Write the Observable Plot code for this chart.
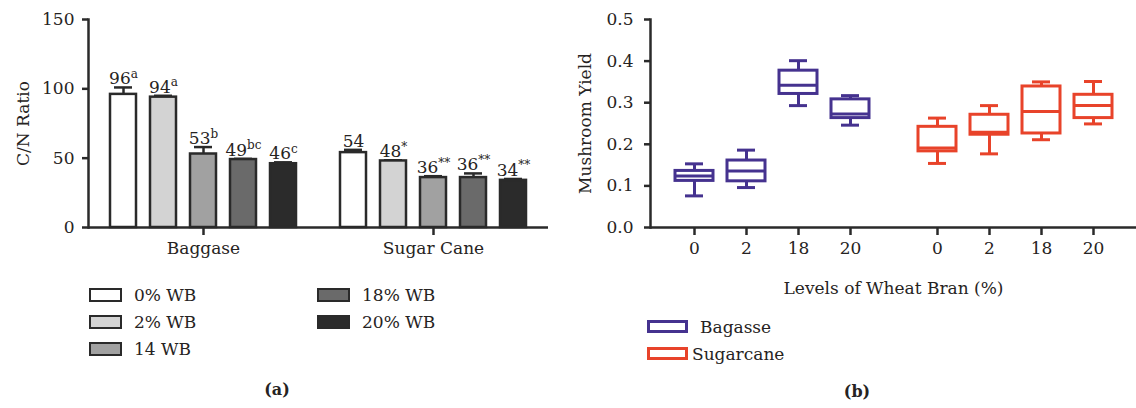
<!DOCTYPE html>
<html>
<head>
<meta charset="utf-8">
<script src="https://cdn.jsdelivr.net/npm/d3@7"></script>
<script src="https://cdn.jsdelivr.net/npm/@observablehq/plot@0.6"></script>
<style>
  body { margin: 0; background: #fff; font-family: "DejaVu Serif", serif; color: #262322; }
  #fig { position: relative; width: 1136px; height: 408px; overflow: hidden; background: #fff; }
  .panel { position: absolute; top: 0; }
  .legend { position: absolute; font-size: 17px; }
  .legend .item { display: flex; align-items: center; height: 27px; white-space: nowrap; }
  .legend .sw { box-sizing: border-box; flex: none; }
  #legendA { left: 89px; top: 281px; display: grid; grid-template-columns: 228px auto; grid-template-rows: repeat(3, 27px); grid-auto-flow: column; }
  #legendA .sw { width: 33px; height: 14px; border: 2.5px solid #2a2a2a; margin-right: 12px; }
  #legendB { left: 647px; top: 313px; }
  #legendB .sw { width: 41px; height: 13px; border: 3px solid; }
  .cap { position: absolute; font-weight: bold; font-size: 16px; line-height: 20px; transform: translateX(-50%); }
</style>
</head>
<body>
<div id="fig">
  <div id="panelA" class="panel" style="left:0px"></div>
  <div id="panelB" class="panel" style="left:560px"></div>
  <div id="legendA" class="legend"></div>
  <div id="legendB" class="legend"></div>
  <div class="cap" style="left:277px; top:380px">(a)</div>
  <div class="cap" style="left:857px; top:382px">(b)</div>
</div>
<script>
// ---- (a) C/N ratio of the substrates with wheat bran (WB) ----
const substrates = ["Baggase", "Sugar Cane"];
const wbLevels = ["0% WB", "2% WB", "14 WB", "18% WB", "20% WB"];
const wbFills = ["#ffffff", "#d3d3d3", "#a1a1a1", "#6a6a6a", "#2b2b2b"];
const cnBaggase = [96, 94, 53, 49, 46];
const cnSugarCane = [54, 48, 36, 36, 34];
const errBaggase = [5, 1, 5, 0.5, 1];
const errSugarCane = [2, 0.5, 1, 3, 1];
const markBaggase = ["a", "a", "b", "bc", "c"];
const markSugarCane = ["", "*", "**", "**", "**"];

// ---- (b) mushroom yield, five-number summaries [min, q1, median, q3, max] ----
const yieldSubstrates = ["Bagasse", "Sugarcane"];
const wbPercent = ["0", "2", "18", "20"];
const boxColors = ["#45328f", "#e8432a"];
const yieldBagasse = [
  [0.076, 0.112, 0.124, 0.136, 0.153],
  [0.096, 0.111, 0.136, 0.161, 0.186],
  [0.293, 0.321, 0.342, 0.377, 0.401],
  [0.246, 0.263, 0.273, 0.308, 0.317]
];
const yieldSugarcane = [
  [0.154, 0.183, 0.191, 0.242, 0.263],
  [0.177, 0.223, 0.229, 0.271, 0.293],
  [0.211, 0.226, 0.279, 0.339, 0.350],
  [0.249, 0.263, 0.293, 0.319, 0.351]
];

const ink = "#2a2a2a";
const font = {fontFamily: "DejaVu Serif", fontSize: "17px", color: "#262322", background: "transparent", overflow: "visible"};

// Rows for the bar chart
const cnValues = [cnBaggase, cnSugarCane];
const cnErrors = [errBaggase, errSugarCane];
const cnMarks = [markBaggase, markSugarCane];
const cnRows = substrates.flatMap((s, i) => wbLevels.map((lvl, j) => ({
  substrate: s, level: lvl, value: cnValues[i][j], err: cnErrors[i][j], mark: cnMarks[i][j]
})));

const chartA = Plot.plot({
  width: 560, height: 265,
  marginLeft: 88, marginRight: 12, marginTop: 19, marginBottom: 38,
  style: font,
  fx: {domain: substrates, padding: 0},
  x: {domain: wbLevels, paddingInner: 0.36, paddingOuter: 0.555, axis: null},
  y: {domain: [0, 150]},
  color: {domain: wbLevels, range: wbFills},
  marks: [
    Plot.frame({anchor: "left", facetAnchor: "left", stroke: ink, strokeWidth: 2.5}),
    Plot.axisY({ticks: [0, 50, 100, 150], tickSize: 6, tickPadding: 8, strokeWidth: 2.5, stroke: ink,
      label: "C/N Ratio", labelAnchor: "center", labelArrow: "none", labelOffset: 72}),
    Plot.axisFx({anchor: "bottom", tickSize: 8, tickPadding: 6, strokeWidth: 2.5, stroke: ink, label: null}),
    Plot.ruleY([0], {stroke: ink, strokeWidth: 2.5}),
    Plot.ruleX(cnRows, {fx: "substrate", x: "level", y1: "value", y2: d => d.value + d.err, stroke: ink, strokeWidth: 2.5}),
    Plot.tickY(cnRows, {fx: "substrate", x: "level", y: d => d.value + d.err, stroke: ink, strokeWidth: 2.5, insetLeft: 4, insetRight: 4}),
    Plot.barY(cnRows, {fx: "substrate", x: "level", y: "value", fill: "level", stroke: ink, strokeWidth: 2.5}),
    Plot.text(cnRows, {fx: "substrate", x: "level", y: d => d.value + d.err,
      text: d => d.mark ? `${d.value}^${d.mark}` : `${d.value}`,
      lineAnchor: "bottom", dy: -3, fontSize: 17})
  ]
});

// Turn "96^a" into a number followed by a raised superscript
d3.select(chartA).selectAll("text").each(function () {
  if (this.children.length > 1) return;
  const parts = this.textContent.split("^");
  if (parts.length < 2) return;
  const t = d3.select(this).text(null);
  t.append("tspan").text(parts[0]);
  t.append("tspan").attr("dy", "-6.5").attr("font-size", "12px").text(parts[1]);
});
document.getElementById("panelA").append(chartA);

// Box plot rows
const yieldTables = [yieldBagasse, yieldSugarcane];
const boxRows = yieldSubstrates.flatMap((s, i) => wbPercent.map((lvl, j) => {
  const [min, q1, median, q3, max] = yieldTables[i][j];
  return {substrate: s, level: lvl, min, q1, median, q3, max};
}));

const box = {fx: "substrate", x: "level", stroke: "substrate", strokeWidth: 3};
const chartB = Plot.plot({
  width: 576, height: 300,
  marginLeft: 89, marginRight: 0, marginTop: 19, marginBottom: 73,
  style: font,
  fx: {domain: yieldSubstrates, padding: 0, axis: null},
  x: {domain: wbPercent, paddingInner: 0.276, paddingOuter: 0.453},
  y: {domain: [0, 0.5]},
  color: {domain: yieldSubstrates, range: boxColors},
  marks: [
    Plot.frame({anchor: "left", facetAnchor: "left", stroke: ink, strokeWidth: 2.5}),
    Plot.axisY({ticks: [0, 0.1, 0.2, 0.3, 0.4, 0.5], tickFormat: ".1f", tickSize: 6, tickPadding: 11,
      strokeWidth: 2.5, stroke: ink, label: "Mushroom Yield", labelAnchor: "center",
      labelArrow: "none", labelOffset: 72}),
    Plot.axisX({tickSize: 8, tickPadding: 6, strokeWidth: 2.5, stroke: ink,
      label: "Levels of Wheat Bran (%)", labelAnchor: "center", labelArrow: "none", labelOffset: 66}),
    Plot.ruleY([0], {stroke: ink, strokeWidth: 2.5}),
    Plot.ruleX(boxRows, {...box, y1: "min", y2: "max"}),
    Plot.tickY(boxRows, {...box, y: "min", insetLeft: 10, insetRight: 10}),
    Plot.tickY(boxRows, {...box, y: "max", insetLeft: 10, insetRight: 10}),
    Plot.barY(boxRows, {...box, y1: "q1", y2: "q3", fill: "white"}),
    Plot.tickY(boxRows, {...box, y: "median"})
  ]
});
document.getElementById("panelB").append(chartB);

// Legends
const legendA = d3.select("#legendA");
wbLevels.forEach((lvl, i) => {
  const item = legendA.append("div").attr("class", "item");
  item.append("span").attr("class", "sw").style("background", wbFills[i]);
  item.append("span").text(lvl);
});
const legendB = d3.select("#legendB");
yieldSubstrates.forEach((s, i) => {
  const item = legendB.append("div").attr("class", "item");
  item.append("span").attr("class", "sw").style("border-color", boxColors[i]).style("margin-right", i === 0 ? "12px" : "4px");
  item.append("span").text(s);
});
</script>
</body>
</html>
